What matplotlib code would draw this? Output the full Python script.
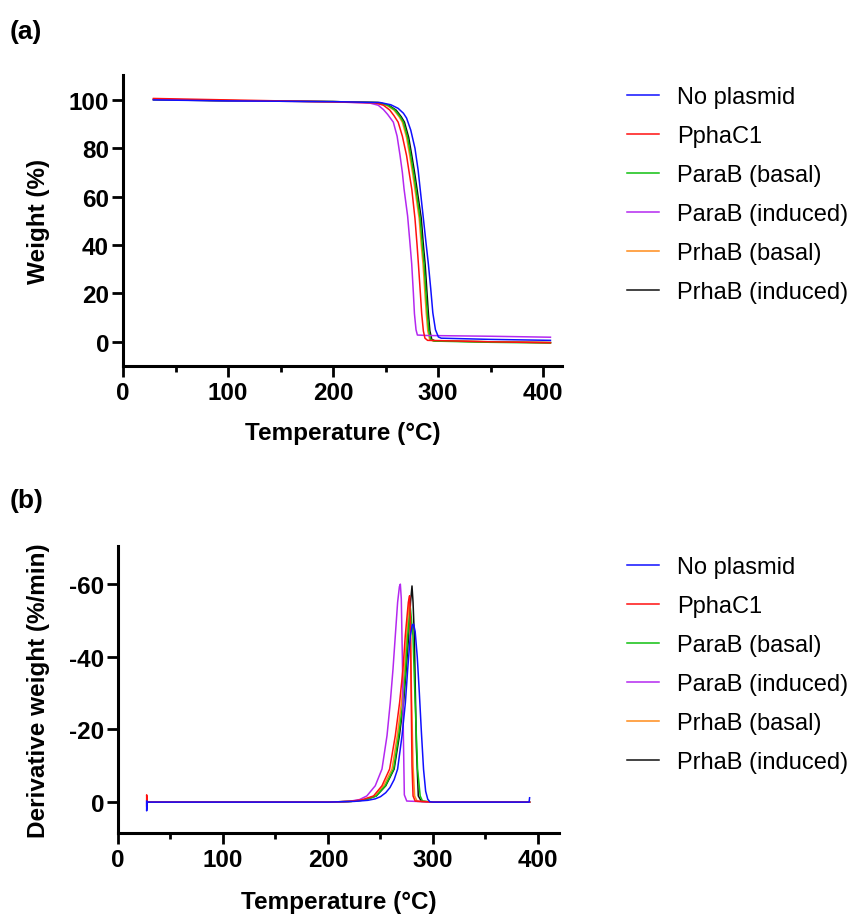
import matplotlib
matplotlib.use("Agg")
import matplotlib.pyplot as plt
from matplotlib.lines import Line2D
from matplotlib.ticker import MultipleLocator

plt.rcParams['font.family'] = ['Liberation Sans', 'DejaVu Sans']

series = ["No plasmid", "PphaC1", "ParaB (basal)", "ParaB (induced)", "PrhaB (basal)", "PrhaB (induced)"]
colors = ["#1010FF", "#FF1010", "#10C010", "#B428F0", "#FF8C1A", "#101010"]

# ---- (a) TGA weight curves: temperature (°C) / weight (%) ----
tga_T_noplasmid = [29, 100, 200, 245, 255, 262, 267, 270, 274, 278, 281, 283, 286, 288.5, 290.8, 293, 295, 297.5, 300.3, 303, 350, 407]
tga_W_noplasmid = [100, 99.6, 99.3, 98.9, 98.0, 96.5, 94.5, 92.5, 87.5, 80, 71, 63, 51, 41, 32, 22, 12, 5, 2.0, 1.5, 1.0, 0.6]

tga_T_pphac1 = [29, 100, 200, 240, 248, 254, 258, 262, 266, 270, 273, 275, 278, 280, 281.3, 283, 284.4, 286, 287.5, 290, 350, 407]
tga_W_pphac1 = [100.6, 100.0, 99.2, 98.8, 97.8, 95.8, 93.5, 90.8, 85, 77, 68.5, 63, 51, 40, 32, 21, 11.6, 4.5, 1.5, 0.6, 0.0, -0.4]

tga_T_arab_basal = [29, 100, 200, 243, 252, 259, 264, 267, 271, 274, 277, 279, 282.9, 285, 286.7, 288.5, 289.8, 291.2, 293, 296, 350, 407]
tga_W_arab_basal = [100.2, 99.7, 99.3, 98.9, 97.8, 95.8, 93, 90.8, 84.5, 77, 69, 63, 51, 40, 32, 20, 11.6, 4.5, 1.0, 0.3, -0.2, -0.5]

tga_T_arab_induced = [29, 100, 200, 235, 243, 248, 252, 257.4, 261, 263.8, 266, 267.6, 271, 273, 274.9, 276.5, 277.5, 279, 280.3, 290, 350, 407]
tga_W_arab_induced = [100.3, 99.7, 99.2, 98.7, 97.8, 96, 94, 90.8, 85, 77, 70, 63.2, 52, 42, 32.2, 20, 11.6, 5, 2.8, 2.6, 2.3, 1.9]

tga_T_rhab_basal = [29, 100, 200, 242, 251, 258, 263, 266, 270, 273, 276, 278, 282, 284, 285.7, 287.5, 288.8, 290.2, 292, 295, 350, 407]
tga_W_rhab_basal = [100.2, 99.7, 99.3, 98.9, 97.8, 95.8, 93, 90.8, 84.5, 77, 69, 63, 51, 40, 32, 20, 11.6, 4.5, 1.0, 0.4, 0.0, -0.3]

tga_T_rhab_induced = [29, 100, 200, 244, 253, 260, 265, 268, 272, 275, 278, 280, 284, 286, 287.7, 289.5, 290.8, 292.2, 294, 297, 350, 407]
tga_W_rhab_induced = [100.1, 99.6, 99.3, 98.9, 97.8, 95.8, 93, 90.8, 84.5, 77, 69, 63, 51, 40, 32, 20, 11.6, 4.5, 1.0, 0.4, 0.0, -0.3]

# ---- (b) DTG curves: temperature (°C) / derivative weight (%/min) ----
dtg_T_noplasmid = [27.3, 27.3, 27.8, 200, 225, 238, 245, 250, 255, 259, 263, 266.3, 270.5, 273.7, 275.9, 278.4, 280.3, 281.5, 283, 285, 287, 289, 291, 293, 295, 297, 300, 391.5, 392]
dtg_D_noplasmid = [-0.3, 2.4, 0, 0, -0.2, -0.5, -0.9, -1.5, -2.6, -4.0, -6.2, -9.1, -18.3, -27.4, -36.6, -45.8, -48.8, -49, -47, -40, -30, -19, -9, -3, -0.8, -0.1, 0, 0, -1.2]

dtg_T_pphac1 = [27.3, 27.3, 27.8, 200, 220, 232, 243.4, 251.4, 258.7, 264.1, 268.2, 271.4, 273.6, 276.5, 277.7, 278.5, 279.2, 280, 281, 283, 300, 392]
dtg_D_pphac1 = [1.0, -2.0, 0, 0, -0.2, -0.6, -1.7, -4.5, -9.1, -18.3, -27.4, -36.6, -45.8, -55, -56.8, -50, -30, -10, -1.7, -0.3, 0, 0]

dtg_T_arab_basal = [28, 200, 222, 235, 246, 254.6, 262.5, 267.3, 271.4, 273.9, 275.9, 278.4, 280.9, 283, 285.3, 287.8, 290, 300, 392]
dtg_D_arab_basal = [0, 0, -0.2, -0.6, -1.7, -4.5, -9.1, -18.3, -27.4, -36.6, -45.8, -53.6, -45.8, -27.4, -9.1, -1.7, -0.3, 0, 0]

dtg_T_arab_induced = [28, 200, 220, 230, 237, 245, 251.4, 256.2, 259.3, 261.9, 264.1, 266.3, 268, 268.9, 269.8, 270.8, 271.8, 272.7, 275, 300, 392]
dtg_D_arab_induced = [0, 0, -0.2, -0.7, -1.7, -4.5, -9.1, -18.3, -27.4, -36.6, -45.8, -55, -59.3, -60, -56, -40, -18, -2, -0.3, 0, 0]

dtg_T_rhab_basal = [28, 200, 222, 234, 245, 253, 261, 266, 270, 272.8, 275, 277.3, 278.3, 279.5, 281, 282.5, 285, 300, 392]
dtg_D_rhab_basal = [0, 0, -0.2, -0.6, -1.7, -4.5, -9.1, -18.3, -27.4, -36.6, -45.8, -55.5, -50, -30, -10, -1.7, -0.2, 0, 0]

dtg_T_rhab_induced = [28, 200, 222, 235, 246, 255, 263, 268, 272, 274.5, 276.8, 278.6, 280, 281, 282.2, 283.2, 284.2, 286, 289, 300, 392]
dtg_D_rhab_induced = [0, 0, -0.2, -0.6, -1.7, -4.5, -9.1, -18.3, -27.4, -36.6, -45.8, -55, -59.5, -55, -45.8, -30, -15, -1.7, -0.2, 0, 0]

tga = [(tga_T_noplasmid, tga_W_noplasmid), (tga_T_pphac1, tga_W_pphac1),
       (tga_T_arab_basal, tga_W_arab_basal), (tga_T_arab_induced, tga_W_arab_induced),
       (tga_T_rhab_basal, tga_W_rhab_basal), (tga_T_rhab_induced, tga_W_rhab_induced)]
dtg = [(dtg_T_noplasmid, dtg_D_noplasmid), (dtg_T_pphac1, dtg_D_pphac1),
       (dtg_T_arab_basal, dtg_D_arab_basal), (dtg_T_arab_induced, dtg_D_arab_induced),
       (dtg_T_rhab_basal, dtg_D_rhab_basal), (dtg_T_rhab_induced, dtg_D_rhab_induced)]

x_ticks = [0, 100, 200, 300, 400]
a_yticks = [0, 20, 40, 60, 80, 100]
b_yticks = [0, -20, -40, -60]
b_yticklabels = ["0", "-20", "-40", "-60"]

W, H = 853, 920
fig = plt.figure(figsize=(W / 100, H / 100), dpi=100)
ax1 = fig.add_axes([123 / W, 1 - 367 / H, 439 / W, 291 / H])
ax2 = fig.add_axes([118 / W, 1 - 834 / H, 441 / W, 287 / H])

draw_order = [5, 4, 2, 3, 1, 0]
for i in draw_order:
    ax1.plot(tga[i][0], tga[i][1], color=colors[i], lw=1.1)
    ax2.plot(dtg[i][0], dtg[i][1], color=colors[i], lw=1.1)

ax1.set_xlim(0, 418)
ax1.set_ylim(-10, 110.3)
ax2.set_xlim(0, 420)
ax2.set_ylim(8.5, -70.5)

TICK_FS = 17.5
LAB_FS = 17.5
for ax in (ax1, ax2):
    for s in ("top", "right"):
        ax.spines[s].set_visible(False)
    for s in ("left", "bottom"):
        ax.spines[s].set_linewidth(2.2)
    ax.set_xticks(x_ticks)
    ax.set_xticklabels([str(t) for t in x_ticks])
    ax.xaxis.set_minor_locator(MultipleLocator(50))
    ax.tick_params(axis="both", which="major", length=8, width=2.0, labelsize=TICK_FS)
    ax.tick_params(axis="x", which="minor", length=4, width=2.0)
    ax.tick_params(axis="x", which="major", pad=3)
    ax.tick_params(axis="y", which="major", pad=2)
    for lab in ax.get_xticklabels() + ax.get_yticklabels():
        lab.set_fontweight("bold")

ax1.set_yticks(a_yticks)
ax1.set_yticklabels([str(t) for t in a_yticks], fontweight="bold")
ax2.set_yticks(b_yticks)
ax2.set_yticklabels(b_yticklabels, fontweight="bold")

ax1.set_xlabel("Temperature (°C)", fontsize=LAB_FS, fontweight="bold")
ax1.set_ylabel("Weight (%)", fontsize=LAB_FS, fontweight="bold")
ax2.set_xlabel("Temperature (°C)", fontsize=LAB_FS, fontweight="bold")
ax2.set_ylabel("Derivative weight (%/min)", fontsize=LAB_FS, fontweight="bold")
ax1.xaxis.set_label_coords(0.5, -0.19)
ax2.xaxis.set_label_coords(0.5, -0.197)
ax1.yaxis.set_label_coords(-0.166, 0.5)
ax2.yaxis.set_label_coords(-0.154, 0.5)

fig.text(10 / W, 1 - 32 / H, "(a)", fontsize=19, fontweight="bold", va="center", ha="left")
fig.text(10 / W, 1 - 501 / H, "(b)", fontsize=19, fontweight="bold", va="center", ha="left")

handles = [Line2D([], [], color=c, lw=1.1) for c in colors]
for ytop in (87, 557):
    fig.legend(handles, series, loc="upper left", bbox_to_anchor=(627 / W, 1 - ytop / H),
               bbox_transform=fig.transFigure, frameon=False, fontsize=17,
               handlelength=1.36, handletextpad=0.76, labelspacing=0.72,
               borderpad=0, borderaxespad=0)

fig.savefig("out.png", dpi=100)
